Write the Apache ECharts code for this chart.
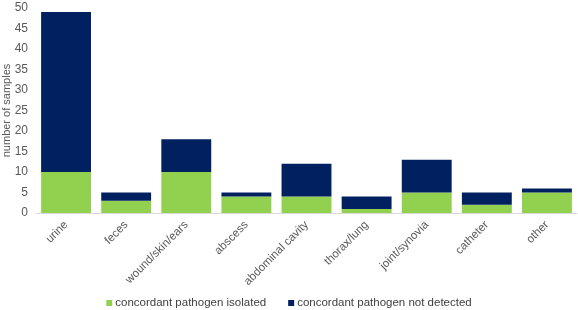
<!DOCTYPE html>
<html>
<head>
<meta charset="utf-8">
<script src="https://cdn.jsdelivr.net/npm/echarts@6/dist/echarts.min.js"></script>
<style>
  html, body { margin: 0; padding: 0; background: #fff; }
  #main { width: 578px; height: 310px; }
</style>
</head>
<body>
<div id="main"></div>
<script>
const sites = ['urine', 'feces', 'wound/skin/ears', 'abscess', 'abdominal cavity', 'thorax/lung', 'joint/synovia', 'catheter', 'other'];
const isolated = [10, 3, 10, 4, 4, 1, 5, 2, 5];
const notDetected = [39, 2, 8, 1, 8, 3, 8, 3, 1];

var myChart = echarts.init(document.getElementById('main'));
var font = 'Liberation Sans, Arial, sans-serif';
option = {
    animation: false,
    textStyle: { fontFamily: font, color: '#595959' },
    grid: { left: 36, right: 1, top: 8, bottom: 97, containLabel: false, outerBoundsMode: 'none' },
    legend: {
        top: 292,
        left: 'center',
        itemWidth: 6,
        itemHeight: 6,
        itemGap: 22,
        icon: 'rect',
        textStyle: { fontFamily: font, fontSize: 11.5, color: '#404040', padding: [0, 0, 0, -2] },
        data: ['concordant pathogen isolated', 'concordant pathogen not detected']
    },
    xAxis: {
        type: 'category',
        data: sites,
        axisLine: { lineStyle: { color: '#d9d9d9', width: 1 } },
        axisTick: { show: false },
        axisLabel: { rotate: 45, fontSize: 11.5, color: '#595959', fontFamily: font, interval: 0, margin: 10 }
    },
    yAxis: {
        type: 'value',
        min: 0,
        max: 50,
        interval: 5,
        name: 'number of samples',
        nameLocation: 'middle',
        nameGap: 24,
        nameMoveOverlap: false,
        nameTextStyle: { fontSize: 11, color: '#595959', fontFamily: font },
        splitLine: { show: false },
        axisLine: { show: false },
        axisTick: { show: false },
        axisLabel: { fontSize: 12, color: '#595959', fontFamily: font, margin: 8 }
    },
    series: [
        {
            name: 'concordant pathogen isolated',
            type: 'bar',
            stack: 'total',
            barCategoryGap: '17%',
            itemStyle: { color: '#92D050' },
            data: isolated
        },
        {
            name: 'concordant pathogen not detected',
            type: 'bar',
            stack: 'total',
            barCategoryGap: '17%',
            itemStyle: { color: '#002060' },
            data: notDetected
        }
    ]
};
myChart.setOption(option);
</script>
</body>
</html>
